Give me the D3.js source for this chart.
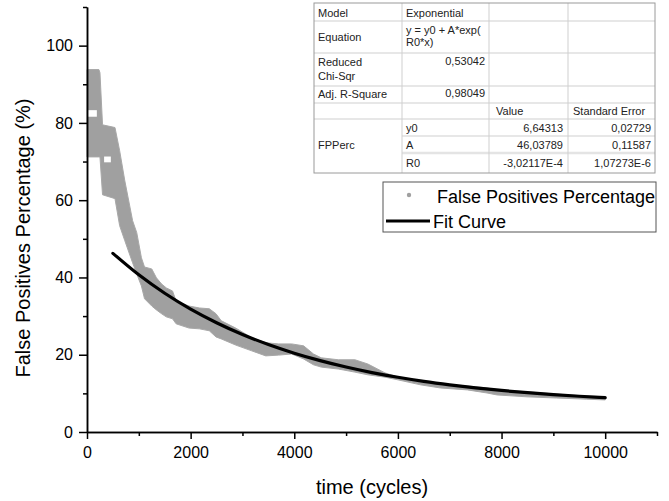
<!DOCTYPE html>
<html>
<head>
<meta charset="utf-8">
<script src="https://cdn.jsdelivr.net/npm/d3@7"></script>
<style>
    body { margin: 0; background: #fff; }
    svg { display: block; font-family: "Liberation Sans", Arial, sans-serif; }
</style>
</head>
<body>
<svg id="chart" width="669" height="501"></svg>
<script>
// band of measured points (upper / lower edge of the grey cloud)
var bandCycles = [0, 230, 250, 300, 540, 630, 730, 880, 960, 1050, 1110, 1250, 1340, 1440, 1530, 1650, 1720, 1970, 2170, 2360,
    2490, 2590, 2870, 3180, 3450, 3700, 3950, 4180, 4370, 4520, 4850, 5170, 5420, 5750, 6000, 6440, 6820, 7340, 7720, 7910,
    8490, 9060, 9640, 10000];
var bandUpper = [93.8, 93.8, 93.0, 79.5, 78.8, 72.8, 65.0, 54.7, 51.6, 45.1, 42.7, 42.2, 39.9, 38.3, 37.3, 36.5, 33.9, 32.6, 32.1, 31.9,
    30.6, 28.8, 26.9, 24.4, 23.1, 22.8, 22.8, 22.3, 20.2, 19.2, 18.7, 18.7, 17.6, 15.3, 14.2, 13.2, 12.4, 11.9, 11.4, 10.9,
    10.4, 9.8, 9.3, 9.1];
var bandLower = [71.2, 71.2, 71.2, 61.4, 60.4, 53.4, 49.5, 43.8, 40.9, 37.8, 34.5, 32.6, 31.6, 30.6, 29.8, 29.3, 28.0, 26.9, 26.7, 26.2,
    24.6, 24.1, 22.5, 21.0, 19.7, 19.9, 20.2, 18.9, 17.4, 16.8, 16.3, 15.5, 14.8, 14.2, 13.5, 12.2, 11.4, 10.9, 10.1, 9.6,
    9.1, 8.8, 8.5, 8.3];
// empty strips inside the cloud: [cycleFrom, cycleTo, valueFrom, valueTo]
var bandGaps = [[0, 190, 81.6, 83.3], [330, 460, 69.8, 71.3]];

// fitted curve
var fitCycles = [500, 1000, 1500, 2000, 2500, 3000, 3500, 4000, 4500, 5000, 5500, 6000, 6500, 7000, 7500, 8000, 8500, 9000, 9500, 10000];
var fitValues = [46.23, 40.68, 35.91, 31.80, 28.28, 25.24, 22.64, 20.39, 18.47, 16.81, 15.38, 14.16, 13.10, 12.20, 11.42, 10.75, 10.17, 9.68, 9.25, 8.89];

var xMajorTicks = [0, 2000, 4000, 6000, 8000, 10000];
var xMinorTicks = [1000, 3000, 5000, 7000, 9000, 11000];
var yMajorTicks = [0, 20, 40, 60, 80, 100];
var yMinorTicks = [10, 30, 50, 70, 90, 110];

var legendLabels = ["False Positives Percentage", "Fit Curve"];

// fit result table
var fitModel = "Exponential";
var fitEquation = ["y = y0 + A*exp(", "R0*x)"];
var fitChiSqr = "0,53042";
var fitAdjR2 = "0,98049";
var fitSeries = "FPPerc";
var paramNames = ["y0", "A", "R0"];
var paramValues = ["6,64313", "46,03789", "-3,02117E-4"];
var paramErrors = ["0,02729", "0,11587", "1,07273E-6"];

document.addEventListener('DOMContentLoaded', function () {
    drawChart();
    drawTable();
    drawLegend();
});

function drawChart() {
    const svg = d3.select('#chart');

    let x = d3.scaleLinear().domain([0, 11000]).range([87, 657]);
    let y = d3.scaleLinear().domain([0, 110]).range([432, 7]);

    var band = bandCycles.map(function (c, i) {
        return { c: c, hi: bandUpper[i], lo: bandLower[i] };
    });

    let area = d3.area()
        .x(d => x(d.c))
        .y0(d => y(d.lo))
        .y1(d => y(d.hi));

    svg.append('path')
        .datum(band)
        .attr('d', area)
        .style('fill', '#a0a0a0')
        .style('stroke', '#a8a8a8')
        .style('stroke-width', 1);

    svg.selectAll('.gap')
        .data(bandGaps)
        .enter()
        .append('rect')
        .attr('class', 'gap')
        .attr('x', d => x(d[0]))
        .attr('width', d => x(d[1]) - x(d[0]))
        .attr('y', d => y(d[3]))
        .attr('height', d => y(d[2]) - y(d[3]))
        .style('fill', '#fff');

    var fit = fitCycles.map(function (c, i) { return { c: c, v: fitValues[i] }; });
    let line = d3.line().x(d => x(d.c)).y(d => y(d.v)).curve(d3.curveMonotoneX);

    svg.append('path')
        .datum(fit)
        .attr('d', line)
        .style('fill', 'none')
        .style('stroke', '#000')
        .style('stroke-width', 3.2)
        .style('stroke-linecap', 'round');

    // axes
    let xAxis = d3.axisBottom(x).tickValues(xMajorTicks).tickSize(7).tickSizeOuter(0).tickPadding(8).tickFormat(d3.format('d'));
    let xAxisMinor = d3.axisBottom(x).tickValues(xMinorTicks).tickSize(4).tickSizeOuter(0).tickFormat('');
    let yAxis = d3.axisLeft(y).tickValues(yMajorTicks).tickSize(8).tickSizeOuter(0).tickPadding(6).tickFormat(d3.format('d'));
    let yAxisMinor = d3.axisLeft(y).tickValues(yMinorTicks).tickSize(4).tickSizeOuter(0).tickFormat('');

    [[xAxisMinor, 'translate(0,' + y(0) + ')'], [xAxis, 'translate(0,' + y(0) + ')'],
     [yAxisMinor, 'translate(' + x(0) + ',0)'], [yAxis, 'translate(' + x(0) + ',0)']].forEach(function (a) {
        var g = svg.append('g').attr('transform', a[1]).call(a[0]);
        g.selectAll('path, line').style('stroke', '#000').style('stroke-width', 1.5);
        g.selectAll('text').style('font-size', '16px').style('fill', '#000')
            .style('font-family', '"Liberation Sans", Arial, sans-serif');
    });

    svg.append('text')
        .attr('x', (x.range()[0] + x.range()[1]) / 2)
        .attr('y', 494)
        .attr('text-anchor', 'middle')
        .style('font-size', '20px')
        .text('time (cycles)');

    svg.append('text')
        .attr('transform', 'translate(30,' + 238 + ') rotate(-90)')
        .attr('text-anchor', 'middle')
        .style('font-size', '20px')
        .text('False Positives Percentage (%)');
}

function drawTable() {
    const svg = d3.select('#chart');
    const g = svg.append('g').style('font-size', '11px').style('fill', '#222');

    var cols = [314, 402, 489, 568, 655];
    var rows = [3, 21, 53, 86, 103, 119, 136, 153, 173];

    // inner horizontal lines
    rows.slice(1, -1).forEach(function (r, i) {
        var idx = i + 1;
        var startX = (idx === 6 || idx === 7) ? cols[1] : cols[0];
        g.append('line').attr('x1', startX).attr('x2', cols[4]).attr('y1', r).attr('y2', r)
            .style('stroke', idx === 7 ? '#e4e4e4' : '#cfcfcf').style('stroke-width', idx === 7 ? 2.5 : 1);
    });
    cols.slice(1, -1).forEach(function (c) {
        g.append('line').attr('x1', c).attr('x2', c).attr('y1', rows[0]).attr('y2', rows[8])
            .style('stroke', '#cfcfcf').style('stroke-width', 1);
    });
    g.append('rect').attr('x', cols[0]).attr('y', rows[0])
        .attr('width', cols[4] - cols[0]).attr('height', rows[8] - rows[0])
        .style('fill', 'none').style('stroke', '#9a9a9a').style('stroke-width', 1);

    function txt(x, y, s, anchor) {
        g.append('text').attr('x', x).attr('y', y).attr('text-anchor', anchor || 'start').text(s);
    }
    txt(318, 17, 'Model');
    txt(406, 17, fitModel);
    txt(318, 41, 'Equation');
    txt(406, 34, fitEquation[0]);
    txt(406, 46, fitEquation[1]);
    txt(318, 66, 'Reduced');
    txt(318, 80, 'Chi-Sqr');
    txt(485, 65, fitChiSqr, 'end');
    txt(318, 98, 'Adj. R-Square');
    txt(485, 97, fitAdjR2, 'end');
    txt(496, 115, 'Value');
    txt(573, 115, 'Standard Error');
    txt(318, 149, fitSeries);
    var base = [132, 149, 167];
    paramNames.forEach(function (p, i) {
        txt(406, base[i], p);
        txt(563, base[i], paramValues[i], 'end');
        txt(651, base[i], paramErrors[i], 'end');
    });
}

function drawLegend() {
    const svg = d3.select('#chart');
    const g = svg.append('g');

    g.append('rect').attr('x', 383).attr('y', 182).attr('width', 273).attr('height', 50)
        .style('fill', '#fff').style('stroke', '#555').style('stroke-width', 1);

    g.append('circle').attr('cx', 409).attr('cy', 195).attr('r', 2.2).style('fill', '#a0a0a0');
    g.append('line').attr('x1', 386).attr('x2', 430).attr('y1', 221).attr('y2', 221)
        .style('stroke', '#000').style('stroke-width', 3);

    g.selectAll('.legText')
        .data(legendLabels)
        .enter()
        .append('text')
        .attr('class', 'legText')
        .attr('x', (d, i) => i === 0 ? 437 : 433)
        .attr('y', (d, i) => i === 0 ? 203 : 228)
        .style('font-size', '18px')
        .text(d => d);
}
</script>
</body>
</html>
